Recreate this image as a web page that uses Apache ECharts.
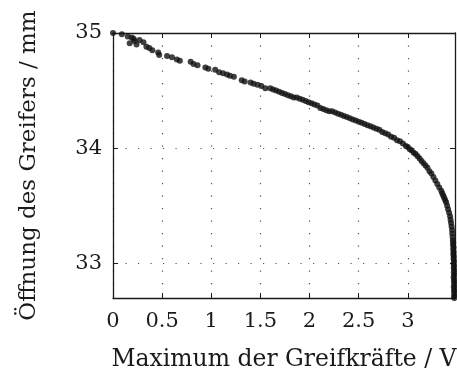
<!DOCTYPE html>
<html>
<head>
<meta charset="utf-8">
<script src="https://cdn.jsdelivr.net/npm/echarts@6/dist/echarts.min.js"></script>
<style>
  html, body { margin: 0; padding: 0; background: #fff; }
  #chart { width: 457px; height: 372px; }
</style>
</head>
<body>
<div id="chart"></div>
<script>
// Maximum der Greifkräfte (V) for each measured gripper opening (mm)
const forceV = [
  0.00, 0.09, 0.15, 0.19, 0.21, 0.17, 0.24, 0.22, 0.27, 0.31, 0.34, 0.37, 0.40, 0.46, 0.47,
  0.55, 0.60, 0.65, 0.68, 0.79, 0.82, 0.86, 0.94, 0.97, 1.04, 1.08, 1.12, 1.16, 1.19, 1.23,
  1.31, 1.34, 1.40, 1.43, 1.47, 1.51, 1.55,
  1.60, 1.63, 1.66, 1.69, 1.72, 1.75, 1.78, 1.81, 1.84, 1.87, 1.90, 1.93, 1.96, 1.99, 2.02,
  2.05, 2.08, 2.11, 2.14, 2.17, 2.20, 2.23, 2.26, 2.29, 2.32, 2.35, 2.38, 2.41, 2.44, 2.47,
  2.50, 2.53, 2.56, 2.59, 2.62, 2.65, 2.68, 2.71, 2.74, 2.77, 2.80, 2.83, 2.86, 2.89, 2.92,
  2.95, 2.98,
  3.00, 3.02, 3.04, 3.06, 3.08, 3.10, 3.12, 3.14, 3.16, 3.18, 3.20, 3.22, 3.24, 3.26, 3.28,
  3.30, 3.32, 3.34, 3.35, 3.36, 3.37, 3.38, 3.39, 3.40, 3.41, 3.42, 3.43, 3.435, 3.44, 3.445,
  3.45, 3.452, 3.455,
  3.458, 3.462, 3.460, 3.465, 3.462, 3.466, 3.463, 3.468, 3.465, 3.470, 3.466, 3.471, 3.467,
  3.472, 3.468, 3.473, 3.466, 3.472, 3.469, 3.474, 3.468, 3.473, 3.470, 3.474, 3.471, 3.472
];
const openingMm = [
  35.00, 34.99, 34.97, 34.96, 34.95, 34.91, 34.90, 34.93, 34.94, 34.92, 34.88, 34.87, 34.85, 34.83, 34.81,
  34.80, 34.79, 34.77, 34.76, 34.75, 34.73, 34.72, 34.70, 34.69, 34.68, 34.66, 34.65, 34.64, 34.63, 34.62,
  34.59, 34.58, 34.57, 34.56, 34.55, 34.54, 34.52,
  34.52, 34.51, 34.50, 34.49, 34.48, 34.47, 34.46, 34.45, 34.44, 34.44, 34.43, 34.42, 34.41, 34.40, 34.39,
  34.38, 34.37, 34.35, 34.34, 34.33, 34.32, 34.32, 34.31, 34.30, 34.29, 34.28, 34.27, 34.26, 34.25, 34.24,
  34.23, 34.22, 34.21, 34.20, 34.19, 34.18, 34.17, 34.16, 34.14, 34.13, 34.12, 34.10, 34.09, 34.07, 34.06,
  34.04, 34.02,
  34.01, 33.99, 33.98, 33.96, 33.95, 33.93, 33.91, 33.89, 33.87, 33.85, 33.83, 33.80, 33.78, 33.75, 33.72,
  33.69, 33.66, 33.63, 33.61, 33.59, 33.57, 33.55, 33.53, 33.50, 33.47, 33.44, 33.41, 33.38, 33.35, 33.32,
  33.29, 33.26, 33.23,
  33.20, 33.18, 33.16, 33.14, 33.12, 33.10, 33.08, 33.06, 33.04, 33.02, 33.00, 32.98, 32.96,
  32.94, 32.92, 32.90, 32.88, 32.86, 32.84, 32.82, 32.80, 32.78, 32.76, 32.74, 32.72, 32.70
];

const xTicks = [0, 0.5, 1, 1.5, 2, 2.5, 3];
const yTicks = [33, 34, 35];

const FONT = '"DejaVu Serif", "Liberation Serif", serif';
const INK = '#1a1a1a';

const points = forceV.map((v, i) => [v, openingMm[i]]);

const dotted = { show: true, lineStyle: { color: '#555', width: 1.2, type: [1.2, 11.3] } };
const frameLine = { show: true, onZero: false, lineStyle: { color: INK, width: 1.3 } };
const tickStyle = { color: INK, width: 1 };

const chart = echarts.init(document.getElementById('chart'), null, { renderer: 'canvas' });
chart.setOption({
  animation: false,
  backgroundColor: '#fff',
  grid: { left: 113, top: 33, right: 2, bottom: 74, containLabel: false, outerBoundsMode: 'none' },
  xAxis: [
    {
      type: 'value', min: 0, max: 3.48,
      name: 'Maximum der Greifkräfte / V', nameLocation: 'middle', nameGap: 50,
      nameTextStyle: { fontFamily: FONT, fontSize: 23.5, color: INK },
      axisLine: frameLine,
      axisTick: { show: true, inside: true, length: 5, lineStyle: tickStyle, customValues: xTicks },
      axisLabel: { fontFamily: FONT, fontSize: 21, color: INK, margin: 13, customValues: xTicks,
                   formatter: v => String(v) },
      splitLine: dotted
    },
    {
      type: 'value', position: 'top', min: 0, max: 3.48,
      axisLine: frameLine,
      axisTick: { show: true, inside: true, length: 5, lineStyle: tickStyle, customValues: xTicks },
      axisLabel: { show: false }, splitLine: { show: false }
    }
  ],
  yAxis: [
    {
      type: 'value', min: 32.7, max: 35,
      name: 'Öffnung des Greifers / mm', nameLocation: 'middle', nameGap: 72,
      nameTextStyle: { fontFamily: FONT, fontSize: 23, color: INK },
      axisLine: frameLine,
      axisTick: { show: true, inside: true, length: 5, lineStyle: tickStyle, customValues: yTicks },
      axisLabel: { fontFamily: FONT, fontSize: 21, color: INK, margin: 11, customValues: yTicks,
                   formatter: v => String(v) },
      splitLine: dotted
    },
    {
      type: 'value', position: 'right', min: 32.7, max: 35,
      axisLine: frameLine,
      axisTick: { show: true, inside: true, length: 5, lineStyle: tickStyle, customValues: yTicks },
      axisLabel: { show: false }, splitLine: { show: false }
    }
  ],
  series: [{
    type: 'scatter',
    data: points,
    symbol: 'circle',
    symbolSize: 6,
    itemStyle: { color: '#111' },
    clip: false
  }]
});
</script>
</body>
</html>
